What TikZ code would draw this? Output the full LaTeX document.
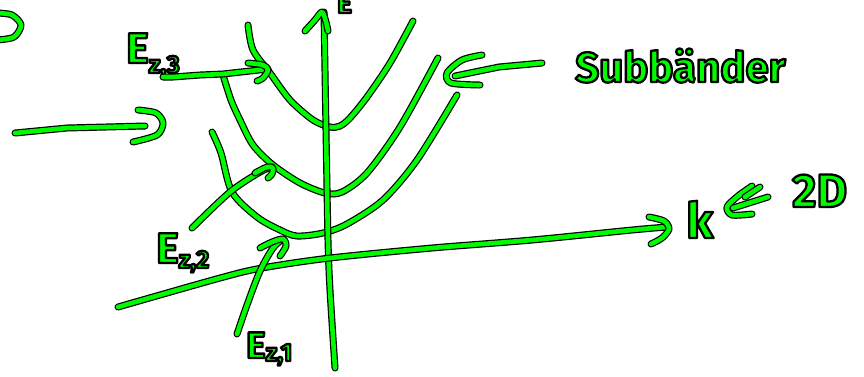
\documentclass[tikz,border=0pt]{standalone}
\usepackage{fontspec}
\setmainfont{Fira Sans}
\definecolor{pen}{RGB}{0,250,0}
\tikzset{
  ink/.style={draw=pen, line width=4.6pt, line cap=round, line join=round,
    preaction={draw=black, line width=7pt, line cap=round, line join=round}},
  lbl/.style={inner sep=0pt, font=\bfseries, text=pen, anchor=base west},
}
\newcommand\hw[4]{%
  \node[lbl] (#1) at (#2) {\special{pdf:literal direct 2 Tr 0 0 0 RG 2.3 w 1 j}\fontsize{#3}{#3}\selectfont #4\special{pdf:literal direct 0 Tr}};}
\newcommand\subs[2]{\raisebox{#1}{\fontsize{25}{25}\selectfont #2}}
\begin{document}
\begin{tikzpicture}[x=1pt,y=-1pt]
\useasboundingbox (0,0) rectangle (864,376);
\fill[white] (0,0) rectangle (864,376);

% labels
\hw{Ez3}{126,63}{43}{E\subs{-10pt}{z,3}}
\hw{Ez2}{156,263}{43}{E\subs{-5pt}{z,2}}
\hw{Ez1}{246,358}{37}{E\subs{-3pt}{z,1}}
\hw{Etop}{337,13}{28}{E}
\hw{sub}{575,82}{42}{Subbänder}
\hw{klab}{686,238}{49}{k}
\hw{twoD}{792,207}{47}{2D}

% named ends
\coordinate (z3s) at (163,77);
\coordinate (z3e) at (268,69);
\coordinate (z2s) at (192,228);
\coordinate (z2e) at (272,167);
\coordinate (z1s) at (237,334);
\coordinate (z1e) at (283,239);
\coordinate (sbs) at (542,63);
\coordinate (sbe) at (455,76);
\coordinate (las) at (15,133);
\coordinate (lae) at (145,126);

% fragment at top left
\draw[ink] plot[smooth] coordinates {(-3,13) (12,15) (21,25) (14,37) (-3,40)};

% left arrow
\draw[ink] (las) -- (67,128) -- (lae);
\draw[ink] plot[smooth] coordinates {(138,110) (156,113) (163,123) (157,135) (133,142)};

% parabolas
\draw[ink] plot[smooth] coordinates {(248,25) (253,50) (270,73) (290,100) (313,120) (330,127) (340,126) (350,118) (367,97) (390,63) (413,21)};
\draw[ink] plot[smooth] coordinates {(223,75) (231,100) (240,120) (253,145) (273,165) (300,183) (325,193) (342,192) (367,173) (400,127) (438,58)};
\draw[ink] plot[smooth] coordinates {(212,132) (221,153) (232,192) (257,217) (280,230) (297,236) (323,233) (347,224) (383,200) (417,160) (457,95)};

% E axis
\draw[ink] plot[smooth] coordinates {(335,368) (330,290) (328,240) (326,130) (324,12)};
\draw[ink] plot[smooth] coordinates {(305,31) (315,20) (322,12) (326,22) (328,31)};

% k axis
\draw[ink] plot[smooth] coordinates {(118,307) (220,278) (262,268) (330,258) (432,248) (532,240) (632,230) (667,227)};
\draw[ink] plot[smooth] coordinates {(649,217) (664,221) (669,229) (662,238) (651,244)};

% E_z3 arrow
\draw[ink] (z3s) -- (173,77) -- (200,75) -- (223,74) -- (z3e);
\draw[ink] plot[smooth] coordinates {(248,63) (263,65) (268,70) (263,78) (257,81)};

% E_z2 arrow
\draw[ink] plot[smooth] coordinates {(z2s) (230,192) (260,172) (z2e)};
\draw[ink] plot[smooth] coordinates {(255,173) (267,167) (273,168) (272,174) (268,178)};

% E_z1 arrow
\draw[ink] plot[smooth] coordinates {(z1s) (247,305) (260,271) (273,248) (z1e)};
\draw[ink] plot[smooth] coordinates {(260,248) (272,242) (283,239) (286,246) (280,256)};

% Subbaender arrow
\draw[ink] (sbs) -- (499,67) -- (sbe);
\draw[ink] plot[smooth] coordinates {(482,55) (462,60) (447,73) (451,83) (480,85)};

% element sign near k
\draw[ink] plot[smooth] coordinates {(752,186) (738,196) (727,207) (732,215) (752,214)};
\draw[ink] (768,197) -- (733,208);
\draw[ink] (760,187) -- (745,197);
\end{tikzpicture}
\end{document}
